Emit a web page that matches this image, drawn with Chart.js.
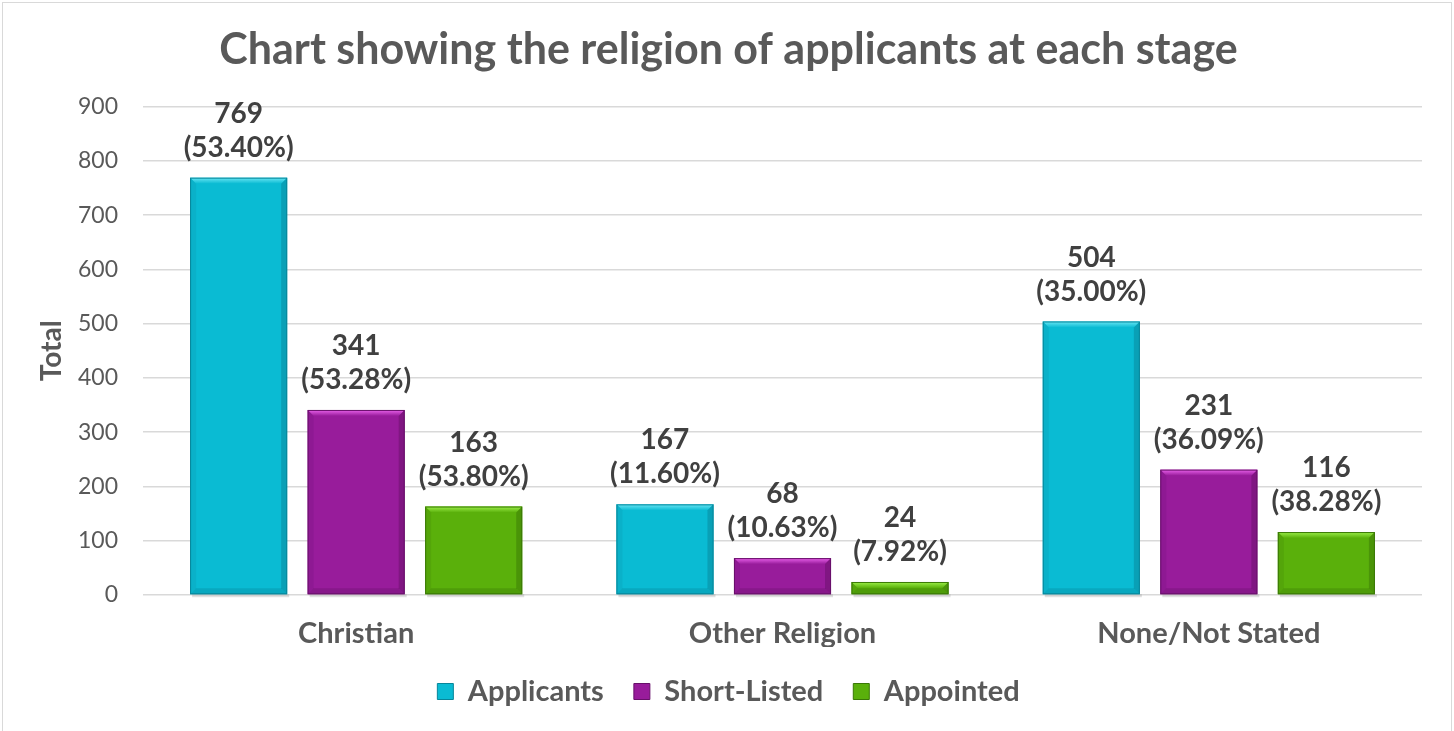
<!DOCTYPE html>
<html><head><meta charset="utf-8">
<script src="https://cdn.jsdelivr.net/npm/chart.js@4"></script>
<style>
html,body{margin:0;padding:0;background:#fff;}
#wrap{position:absolute;left:2px;top:2px;width:1450px;height:740px;border:1.5px solid #d9d9d9;box-sizing:border-box;}
canvas{position:absolute;left:0;top:0;}
</style></head><body>
<div id="wrap"></div>
<canvas id="c" width="1454" height="731"></canvas>
<script>
const categories = ["Christian", "Other Religion", "None/Not Stated"];
const seriesNames = ["Applicants", "Short-Listed", "Appointed"];
const applicants = [769, 167, 504];
const shortListed = [341, 68, 231];
const appointed = [163, 24, 116];
const applicantsPct = [53.40, 11.60, 35.00];
const shortListedPct = [53.28, 10.63, 36.09];
const appointedPct = [53.80, 7.92, 38.28];
const yTicks = [0, 100, 200, 300, 400, 500, 600, 700, 800, 900];

const palette = [
  {main:'#0ABBD3', light:'#6AE6F4', dark:'#07869A', side:'#0AA6BC'},
  {main:'#981C9B', light:'#EA62EC', dark:'#68106A', side:'#83178A'},
  {main:'#5AB00B', light:'#9DF04A', dark:'#3A7806', side:'#4E9A09'}
];
const pcts = [applicantsPct, shortListedPct, appointedPct];

const ctx = document.getElementById('c').getContext('2d');

const bevelPlugin = {
  id: 'bevel',
  afterDatasetsDraw(chart) {
    const c = chart.ctx;
    chart.data.datasets.forEach((ds, di) => {
      const meta = chart.getDatasetMeta(di);
      const p = palette[di];
      meta.data.forEach((bar) => {
        const l = bar.x - bar.width / 2, r = bar.x + bar.width / 2;
        const t = bar.y, b = bar.base;
        const h = b - t;
        const e = Math.min(6, h / 2);
        c.save();
        c.fillStyle = 'rgba(0,0,0,0.12)';
        c.fillRect(l + 2, b, r - l, 3);
        let g = c.createLinearGradient(0, t, 0, t + e);
        g.addColorStop(0, p.light); g.addColorStop(1, p.main);
        c.fillStyle = g;
        c.beginPath(); c.moveTo(l, t); c.lineTo(r, t); c.lineTo(r - e, t + e); c.lineTo(l + e, t + e); c.closePath(); c.fill();
        c.fillStyle = p.side;
        c.globalAlpha = 0.45;
        c.beginPath(); c.moveTo(l, t); c.lineTo(l + e, t + e); c.lineTo(l + e, b - e); c.lineTo(l, b); c.closePath(); c.fill();
        c.fillStyle = p.dark;
        c.globalAlpha = 0.5;
        c.beginPath(); c.moveTo(r, t); c.lineTo(r - e, t + e); c.lineTo(r - e, b - e); c.lineTo(r, b); c.closePath(); c.fill();
        c.globalAlpha = 0.35;
        c.beginPath(); c.moveTo(l, b); c.lineTo(l + e, b - e); c.lineTo(r - e, b - e); c.lineTo(r, b); c.closePath(); c.fill();
        c.globalAlpha = 1;
        c.strokeStyle = p.dark; c.lineWidth = 1;
        c.strokeRect(l + 0.5, t + 0.5, r - l - 1, h - 1);
        c.restore();
      });
    });
  }
};

const labelPlugin = {
  id: 'valLabels',
  afterDatasetsDraw(chart) {
    const c = chart.ctx;
    c.save();
    c.font = 'bold 28px Lato';
    c.fillStyle = '#404040';
    c.textAlign = 'center';
    c.textBaseline = 'middle';
    chart.data.datasets.forEach((ds, di) => {
      const meta = chart.getDatasetMeta(di);
      meta.data.forEach((bar, i) => {
        const v = ds.data[i];
        c.fillText(String(v), bar.x, bar.y - 64);
        c.fillText('(' + pcts[di][i].toFixed(2) + '%)', bar.x, bar.y - 30);
      });
    });
    c.restore();
  }
};

function mkDs(label, data, di) {
  return {
    label: label,
    data: data,
    backgroundColor: palette[di].main,
    borderWidth: 0,
    categoryPercentage: 0.827,
    barPercentage: 0.826
  };
}

new Chart(ctx, {
  type: 'bar',
  data: {
    labels: categories,
    datasets: [
      mkDs(seriesNames[0], applicants, 0),
      mkDs(seriesNames[1], shortListed, 1),
      mkDs(seriesNames[2], appointed, 2)
    ]
  },
  options: {
    responsive: false,
    animation: false,
    layout: {padding: {left: 35, right: 32, top: 18, bottom: 15}},
    plugins: {
      title: {
        display: true,
        text: 'Chart showing the religion of applicants at each stage',
        font: {family: 'Lato', size: 43, weight: 'bold'},
        color: '#595959',
        padding: {top: 6, bottom: 31}
      },
      legend: {
        position: 'bottom',
        labels: {
          font: {family: 'Lato', size: 29, weight: 'bold'},
          color: '#595959',
          boxWidth: 16, boxHeight: 16,
          padding: 30,
          generateLabels(chart) {
            return chart.data.datasets.map((ds, i) => ({
              text: ds.label,
              fillStyle: palette[i].main,
              strokeStyle: palette[i].dark,
              lineWidth: 1,
              datasetIndex: i,
              fontColor: '#595959'
            }));
          }
        }
      },
      tooltip: {enabled: false}
    },
    scales: {
      x: {
        grid: {display: false, drawTicks: false},
        border: {display: false},
        ticks: {font: {family: 'Lato', size: 29, weight: 'bold'}, color: '#595959', padding: 21},
        afterFit(s) { s.height = 52; }
      },
      y: {
        min: 0, max: 900,
        afterBuildTicks(s) { s.ticks = yTicks.map(v => ({value: v})); },
        grid: {color: '#d9d9d9', lineWidth: 1.5, drawTicks: false},
        border: {display: false},
        ticks: {font: {family: 'Lato', size: 23}, color: '#595959', padding: 25},
        title: {display: true, text: 'Total', font: {family: 'Lato', size: 28, weight: 'bold'}, color: '#595959', padding: 0},
        afterFit(s) { s.width = 108; }
      }
    }
  },
  plugins: [bevelPlugin, labelPlugin]
});
</script>
</body></html>
